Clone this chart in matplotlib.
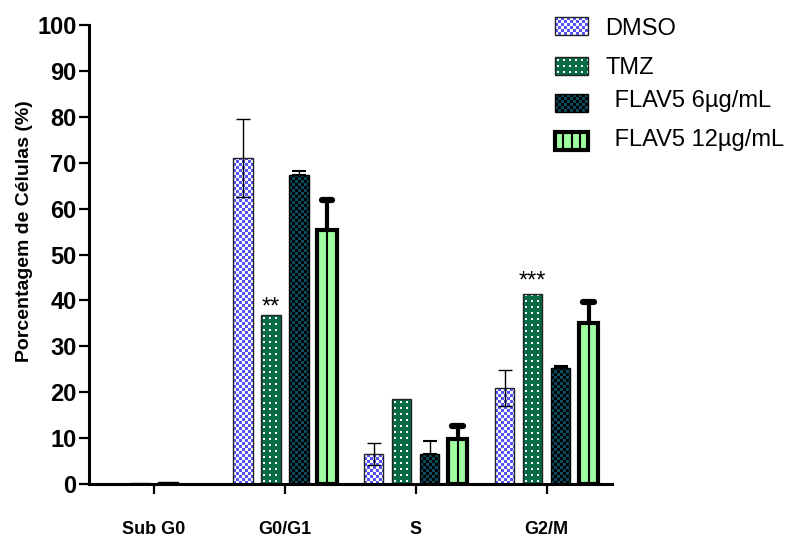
import numpy as np
import matplotlib
matplotlib.use("Agg")
import matplotlib.pyplot as plt
from matplotlib.patches import Rectangle

plt.rcParams['font.family'] = ['Liberation Sans', 'DejaVu Sans']

# ---------------- data ----------------
phases = ['Sub G0', 'G0/G1', 'S', 'G2/M']
series = ['DMSO', 'TMZ', ' FLAV5 6µg/mL', ' FLAV5 12µg/mL']
dmso = [0.0, 71.0, 6.5, 20.9]
dmso_err = [0.0, 8.5, 2.4, 3.9]
tmz = [0.2, 36.9, 18.6, 41.3]
tmz_err = [0.0, 0.0, 0.0, 0.0]
flav6 = [0.4, 67.4, 6.5, 25.2]
flav6_err = [0.0, 0.9, 2.8, 0.4]
flav12 = [0.0, 55.3, 9.8, 35.1]
flav12_err = [0.0, 6.6, 2.8, 4.6]
yticks = list(range(0, 101, 10))
sig_labels = ['', '**', '', '***']   # marks above the TMZ bars
ylabel = 'Porcentagem de Células (%)'

values = [dmso, tmz, flav6, flav12]
errors = [dmso_err, tmz_err, flav6_err, flav12_err]

# ---------------- styles ----------------
BLUE = np.array([0.33, 0.33, 0.96])
WHITE = np.array([1.0, 1.0, 1.0])
GREEN = np.array([0.03, 0.42, 0.27])
TEAL = np.array([0.04, 0.30, 0.37])
BLACK = np.array([0.0, 0.0, 0.0])
LGREEN = np.array([0.63, 1.0, 0.63])
kinds = ['dmso', 'tmz', 'flav6', 'flav12']
edgecolors = ['#222222', '#222222', '#000000', '#000000']
edgewidths = [1.0, 1.0, 1.0, 3.0]


def pattern(kind, w, h):
    w = max(int(round(w)), 1)
    h = max(int(round(h)), 1)
    yy, xx = np.mgrid[0:h, 0:w]
    if kind == 'dmso':
        m = ((xx // 3 + yy // 3) % 2 == 0)
        img = np.where(m[..., None], BLUE, WHITE)
    elif kind == 'tmz':
        m = np.isin(xx % 6, [2, 3]) & np.isin(yy % 6, [2, 3])
        img = np.where(m[..., None], WHITE, GREEN)
    elif kind == 'flav6':
        m = ((xx // 3 + yy // 3) % 2 == 0)
        img = np.where(m[..., None], TEAL, BLACK)
    else:
        img = np.ones((h, w, 3)) * LGREEN
    return img


W, H = 790, 538
fig = plt.figure(figsize=(W / 100, H / 100), dpi=100)
ax = fig.add_axes([89 / W, 1 - 484 / H, (612 - 89) / W, (484 - 25) / H])

xlim = (-0.496, 3.5)
ylim = (0, 100)
ax.set_xlim(*xlim)
ax.set_ylim(*ylim)

x = np.arange(len(phases))
step = 0.214
width = 0.149
offsets = (np.arange(4) - 1.5) * step

for i in range(4):
    xs = x + offsets[i]
    vals = np.array(values[i])
    bars = ax.bar(xs, vals, width=width, facecolor='none',
                  edgecolor=edgecolors[i], linewidth=edgewidths[i], zorder=3)
    for b, v in zip(bars, vals):
        if v <= 0:
            b.set_linewidth(0)
            continue
        x0 = b.get_x()
        bw = b.get_width()
        p0 = ax.transData.transform((x0, 0))
        p1 = ax.transData.transform((x0 + bw, v))
        img = pattern(kinds[i], p1[0] - p0[0], p1[1] - p0[1])
        im = ax.imshow(img, extent=(x0, x0 + bw, 0, v), origin='lower',
                       interpolation='nearest', aspect='auto', zorder=2)
        im.set_clip_path(b)
        if kinds[i] == 'flav12':
            ax.vlines(x0 + bw / 2, 0, v, color='black', lw=1.5, zorder=2.5)
    err = np.array(errors[i])
    sel = err > 0
    if kinds[i] == 'dmso':
        ax.errorbar(xs[sel], vals[sel], yerr=err[sel], fmt='none', ecolor='black',
                    elinewidth=1.0, capsize=5, capthick=1.0, zorder=4)
    elif kinds[i] == 'flav6':
        ax.errorbar(xs[sel], vals[sel], yerr=[np.zeros(sel.sum()), err[sel]], fmt='none',
                    ecolor='black', elinewidth=1.0, capsize=5, capthick=1.5, zorder=4)
    elif kinds[i] == 'flav12':
        ax.vlines(xs[sel], vals[sel], vals[sel] + err[sel], color='black', lw=3, zorder=4)
        caps = ax.hlines(vals[sel] + err[sel], xs[sel] - 0.04, xs[sel] + 0.04,
                         color='black', lw=4.5, zorder=4)
        caps.set_capstyle('round')

# significance marks
for j, lbl in enumerate(sig_labels):
    if lbl:
        off = 1 if lbl == '**' else 5
        ax.annotate(lbl, (x[j] + offsets[1], tmz[j]), xytext=(0, off),
                    textcoords='offset points', ha='center', va='baseline',
                    fontsize=17, zorder=5)

ax.set_xlim(*xlim)
ax.set_ylim(*ylim)

for s in ['top', 'right']:
    ax.spines[s].set_visible(False)
for s in ['left', 'bottom']:
    ax.spines[s].set_linewidth(2.2)
ax.spines['bottom'].set_zorder(6)

ax.set_yticks(yticks, labels=[str(v) for v in yticks], fontsize=17, fontweight='bold',
              family=['Liberation Sans Narrow', 'Liberation Sans', 'DejaVu Sans'])
ax.set_xticks(x, labels=phases, fontsize=13, fontweight='bold')
ax.tick_params(axis='y', length=7, width=1.6, pad=2)
ax.tick_params(axis='x', length=7, width=1.6, pad=20)

fig.text(25 / W, 1 - 231 / H, ylabel, rotation=90, ha='center', va='center',
         fontsize=14, fontweight='bold')

# ---------------- legend (drawn in pixel space) ----------------
lax = fig.add_axes([0, 0, 1, 1])
lax.set_xlim(0, W)
lax.set_ylim(H, 0)
lax.axis('off')

sw_x0, sw_x1 = 555, 588
sw_y = [(17, 35), (57, 75), (94, 112), (131.5, 149.5)]
txt_x = [605, 605, 608, 608]
txt_base = [35, 74, 107, 146]
for i in range(4):
    y0, y1 = sw_y[i]
    img = pattern(kinds[i], sw_x1 - sw_x0, y1 - y0)
    lax.imshow(img, extent=(sw_x0, sw_x1, y1, y0), origin='upper',
               interpolation='nearest', aspect='auto', zorder=2)
    if kinds[i] == 'flav12':
        for k in range(1, 4):
            xx = sw_x0 + k * (sw_x1 - sw_x0) / 4
            lax.plot([xx, xx], [y0, y1], color='black', lw=1.5, zorder=3)
    lax.add_patch(Rectangle((sw_x0, y0), sw_x1 - sw_x0, y1 - y0, facecolor='none',
                            edgecolor=edgecolors[i], lw=edgewidths[i], zorder=4))
    lax.text(txt_x[i], txt_base[i], series[i], fontsize=17, ha='left', va='baseline')

lax.set_xlim(0, W)
lax.set_ylim(H, 0)

fig.savefig('out.png', dpi=100)
